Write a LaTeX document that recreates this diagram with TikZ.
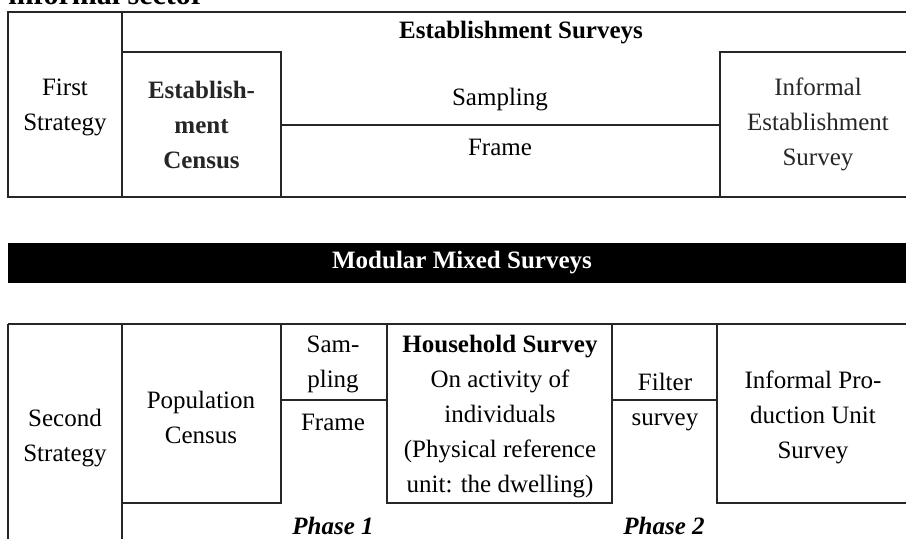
\documentclass[tikz,border=0pt]{standalone}
\usepackage{fontspec}
\setmainfont{Liberation Serif}

\tikzset{
  cell/.style={align=center,font=\fontsize{10}{14}\selectfont},
  boldcell/.style={align=center,font=\fontsize{10}{14}\selectfont\bfseries},
  phase/.style={font=\fontsize{10}{14}\selectfont\bfseries\itshape},
  rule/.style={black!85,line width=0.5pt}
}

\begin{document}
\begin{tikzpicture}[x=0.4pt,y=-0.4pt]
  \useasboundingbox (0,0) rectangle (906,539);
  \clip (0,0) rectangle (906,539);
  \node[anchor=base west,inner sep=0,font=\fontsize{12}{14}\selectfont\bfseries] (sector) at (8,5) {informal sector};

  % first strategy
  \draw[rule] (8,12) rectangle (916,197);
  \draw[rule] (8,12) rectangle (122,197);
  \draw[rule] (122,52) rectangle (281,197) node(estcensus)[boldcell,pos=.5] {Establish-\\ment\\Census};
  \draw[rule] (720,52) rectangle (916,197) node(estsurvey)[cell,pos=.5] {Informal\\Establishment\\Survey};
  \draw[rule] (281,125) -- (720,125);
  \node[cell] (first) at (65,107) {First\\Strategy};
  \node[boldcell] (estsurveys) at (521,33) {Establishment Surveys};
  \node[cell] (sampling) at (500,100) {Sampling};
  \node[cell] (frame) at (500,147) {Frame};

  % modular bar
  \fill[black] (8,243) rectangle (916,283) node(mixed)[boldcell,white,pos=.5] {Modular Mixed Surveys};

  % second strategy
  \draw[rule] (8,324) -- (916,324);
  \draw[rule] (8,324) -- (8,545);
  \draw[rule] (122,324) -- (122,545);
  \draw[rule] (122,324) rectangle (281,503);
  \draw[rule] (281,400) -- (387,400);
  \draw[rule] (387,324) rectangle (612,503);
  \draw[rule] (612,400) -- (717,400);
  \draw[rule] (717,324) rectangle (909,503);
  \node[cell] (second) at (65,438) {Second\\Strategy};
  \node[cell] (popcensus) at (201,417) {Population\\Census};
  \node[cell] (sampling2) at (333,364) {Sam-\\pling};
  \node[cell] (frame2) at (333,422) {Frame};
  \node[cell] (household) at (500,417) {\textbf{Household Survey}\\On activity of\\individuals\\(Physical reference\\unit: the dwelling)};
  \node[cell] (filter) at (665,382) {Filter};
  \node[cell] (survey) at (665,422) {survey};
  \node[cell] (ipusurvey) at (813,417) {Informal Pro-\\duction Unit\\Survey};
  \node[phase] (phase1) at (333,526) {Phase 1};
  \node[phase] (phase2) at (664,526) {Phase 2};
\end{tikzpicture}
\end{document}
